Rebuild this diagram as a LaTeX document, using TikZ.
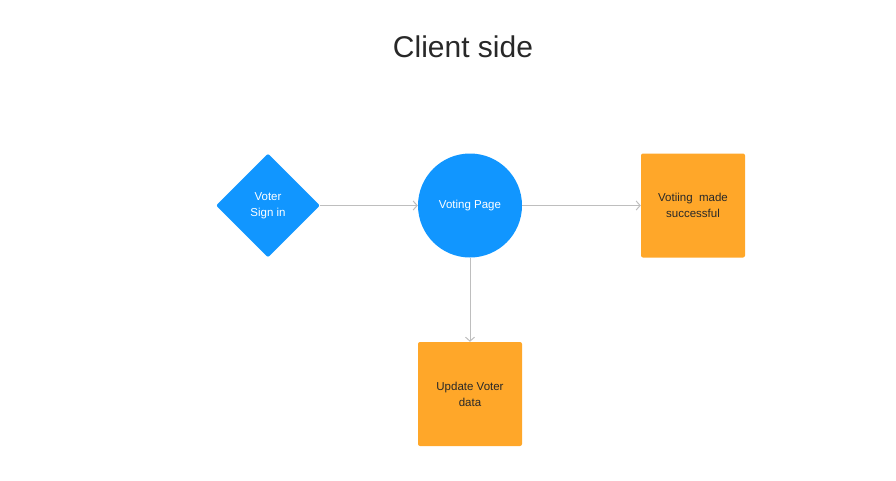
\documentclass[tikz,border=0pt]{standalone}
\usepackage{fontspec}
\setmainfont{Liberation Sans}
\usetikzlibrary{shapes.geometric,arrows.meta,positioning}
\definecolor{voteblue}{RGB}{17,150,255}
\definecolor{voteorange}{RGB}{255,167,41}
\definecolor{linegray}{RGB}{190,190,190}
\definecolor{textdark}{RGB}{40,40,40}

\begin{document}
\begin{tikzpicture}[x=1pt,y=-1pt,
  signin/.style={diamond,aspect=1,fill=voteblue,text=white,minimum width=104pt,minimum height=104pt,inner sep=0pt,rounded corners=2pt,align=center,font=\fontsize{11.5}{16}\selectfont},
  page/.style={circle,fill=voteblue,text=white,minimum size=104pt,inner sep=0pt,align=center,font=\fontsize{11.5}{16}\selectfont},
  result/.style={rectangle,fill=voteorange,text=textdark,minimum size=104pt,inner sep=0pt,rounded corners=2pt,align=center,font=\fontsize{11.5}{16}\selectfont},
  link/.style={draw=linegray,line width=1pt,-{Straight Barb[length=4pt,width=9pt]}}]
\useasboundingbox (0,0) rectangle (896,480);
\node [font=\fontsize{30}{34}\selectfont,text=textdark] (title) at (463,47) {Client side};
\node [signin] (signin) at (268,205.5) {Voter\\Sign in};
\node [page] (page) at (470,205.5) {Voting Page};
\node [result] (success) at (693,205.5) {Votiing\ \ made\\successful};
\node [result] (update) at (470,394) {Update Voter\\data};
\draw [link] (signin) -- (page);
\draw [link] (page) -- (success);
\draw [link] (page) -- (update);
\end{tikzpicture}
\end{document}
